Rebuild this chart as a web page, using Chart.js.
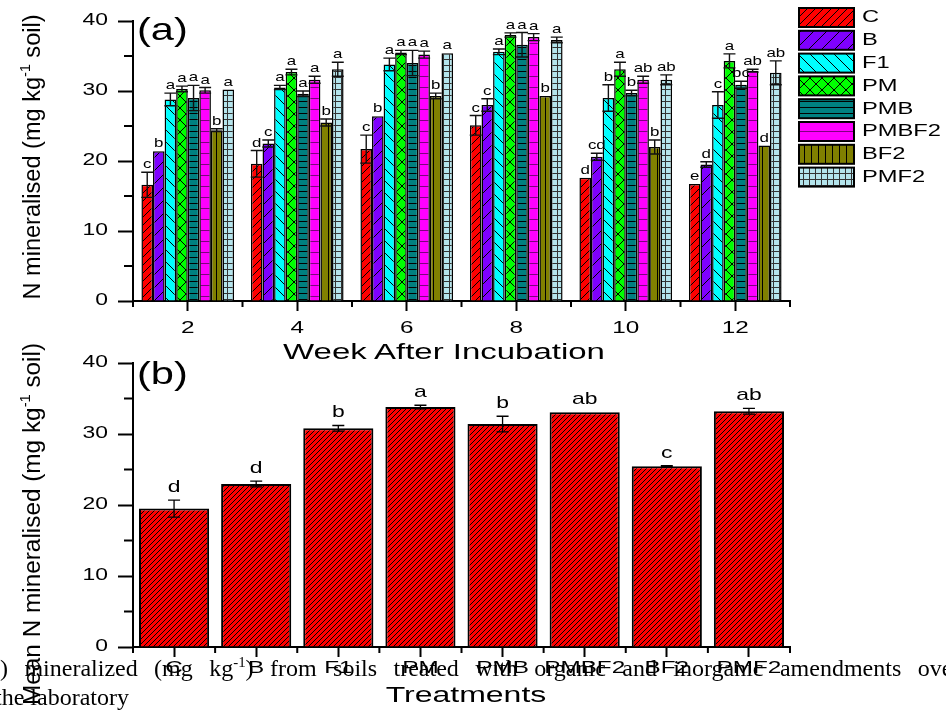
<!DOCTYPE html>
<html>
<head>
<meta charset="utf-8">
<script src="https://cdn.jsdelivr.net/npm/chart.js@4.4.0/dist/chart.umd.min.js"></script>
<style>
  body { margin: 0; background: #fff; }
  #wrap { position: relative; width: 946px; height: 711px; overflow: hidden; background: #fff; }
  canvas { position: absolute; left: 0; top: 0; }
  .t { position: absolute; white-space: nowrap; font-family: "Liberation Sans", Arial, sans-serif; color: #000; line-height: 1; }
  .t sup { font-size: 0.6em; vertical-align: 0.7em; line-height: 0; }
  .cap { position: absolute; white-space: nowrap; font-family: "Liberation Serif", "Times New Roman", serif; font-size: 24px; line-height: 1; color: #000; }
  .cap sup { font-size: 0.62em; vertical-align: 0.6em; line-height: 0; }
</style>
</head>
<body>
<div id="wrap">
  <canvas id="topChart" width="946" height="711"></canvas>
  <canvas id="botChart" width="946" height="711"></canvas>
</div>
<script>
// (a) weekly N mineralised, weeks 2..12
const weeks = ["2", "4", "6", "8", "10", "12"];
const treatments = ["C", "B", "F1", "PM", "PMB", "PMBF2", "BF2", "PMF2"];

const weeklyC     = [16.6, 19.6, 21.7, 25.1, 17.6, 16.7];
const weeklyB     = [21.4, 22.5, 26.4, 28.0, 20.6, 19.5];
const weeklyF1    = [28.8, 30.5, 33.8, 35.6, 29.0, 28.0];
const weeklyPM    = [30.3, 32.7, 35.5, 38.0, 33.1, 34.3];
const weeklyPMB   = [29.0, 29.6, 34.0, 36.6, 29.7, 30.9];
const weeklyPMBF2 = [30.1, 31.6, 35.2, 37.7, 31.6, 32.9];
const weeklyBF2   = [24.4, 25.5, 29.3, 29.3, 22.0, 22.2];
const weeklyPMF2  = [30.2, 33.1, 35.4, 37.3, 31.6, 32.6];

const errC     = [1.8, 1.9, 2.0, 1.4, 0, 0];
const errB     = [0, 0.5, 0, 0.9, 0.5, 0.4];
const errF1    = [0.9, 0.3, 0.9, 0.4, 1.9, 1.9];
const errPM    = [0.4, 0.4, 0.3, 0.3, 1.0, 1.0];
const errPMB   = [1.8, 0.4, 1.8, 1.75, 0.4, 0.5];
const errPMBF2 = [0.4, 0.5, 0.5, 0.5, 0.5, 0.2];
const errBF2   = [0.2, 0.5, 0.4, 0, 1.0, 0];
const errPMF2  = [0, 1.0, 0, 0.4, 0.7, 1.7];

const letC     = ["c", "d", "c", "c", "d", "e"];
const letB     = ["b", "c", "b", "c", "cd", "d"];
const letF1    = ["a", "a", "a", "a", "b", "c"];
const letPM    = ["a", "a", "a", "a", "a", "a"];
const letPMB   = ["a", "a", "a", "a", "b", "bc"];
const letPMBF2 = ["a", "a", "a", "a", "ab", "ab"];
const letBF2   = ["b", "b", "b", "b", "b", "d"];
const letPMF2  = ["a", "a", "a", "a", "ab", "ab"];

// (b) mean over the incubation
const meanAll    = [19.5, 22.95, 30.8, 33.8, 31.4, 33.05, 25.45, 33.2];
const meanErr    = [1.2, 0.4, 0.4, 0.25, 1.1, 0, 0.1, 0.4];
const meanLetter = ["d", "d", "b", "a", "b", "ab", "c", "ab"];

const yTicks = [0, 10, 20, 30, 40];

const weekly = [weeklyC, weeklyB, weeklyF1, weeklyPM, weeklyPMB, weeklyPMBF2, weeklyBF2, weeklyPMF2];
const weeklyErr = [errC, errB, errF1, errPM, errPMB, errPMBF2, errBF2, errPMF2];
const weeklyLet = [letC, letB, letF1, letPM, letPMB, letPMBF2, letBF2, letPMF2];

const SANS = '"Liberation Sans", Arial, sans-serif';
const wrap = document.getElementById("wrap");
const topCtx = document.getElementById("topChart").getContext("2d");

function makePattern(bg, size, draw, line) {
  const c = document.createElement("canvas");
  c.width = size; c.height = size;
  const g = c.getContext("2d");
  g.fillStyle = bg; g.fillRect(0, 0, size, size);
  g.strokeStyle = line || "#000"; g.lineWidth = 1;
  g.beginPath(); draw(g, size); g.stroke();
  return topCtx.createPattern(c, "repeat");
}
const slash = (g, s) => { for (const k of [-s, 0, s]) { g.moveTo(k, s); g.lineTo(k + s, 0); } };
const back = (g, s) => { for (const k of [-s, 0, s]) { g.moveTo(k, 0); g.lineTo(k + s, s); } };
const cross = (g, s) => { slash(g, s); back(g, s); };
const hline = (g, s) => { g.moveTo(0, s - 0.5); g.lineTo(s, s - 0.5); };
const vline = (g, s) => { g.moveTo(s - 0.5, 0); g.lineTo(s - 0.5, s); };
const grid = (g, s) => { hline(g, s); vline(g, s); };

const patterns = [
  makePattern("#ff0000", 8, slash),
  makePattern("#7f00ff", 13, slash),
  makePattern("#00ffff", 12, back),
  makePattern("#00ff00", 12, cross),
  makePattern("#008080", 6, hline),
  makePattern("#ff00ff", 11, hline, "#800080"),
  makePattern("#808000", 7, vline),
  makePattern("#b4e4ec", 6, grid, "#333")
];
const redDense = makePattern("#ff0000", 5, slash);

function stretchText(ctx, txt, x, y, align, sx) {
  ctx.save();
  ctx.translate(x, y);
  ctx.scale(sx, 1);
  ctx.textAlign = align;
  ctx.fillText(txt, 0, 0);
  ctx.restore();
}

// minor ticks + stretched tick labels
function axisDecor(labelDy) {
  return {
    id: "axisDecor",
    afterDraw(chart) {
      const ctx = chart.ctx, xs = chart.scales.x, ys = chart.scales.y;
      ctx.save();
      ctx.strokeStyle = "#000"; ctx.lineWidth = 2;
      ctx.beginPath();
      for (let v = 5; v < 40; v += 10) {
        const py = ys.getPixelForValue(v);
        ctx.moveTo(ys.right - 9, py); ctx.lineTo(ys.right, py);
      }
      for (let i = 0; i <= xs.ticks.length; i++) {
        const px = xs.getPixelForValue(i - 0.5);
        ctx.moveTo(px, xs.top); ctx.lineTo(px, xs.top + 6);
      }
      ctx.stroke();
      ctx.fillStyle = "#000";
      ctx.textBaseline = "middle";
      ctx.font = "16px " + SANS;
      ys.ticks.forEach((t, i) => stretchText(ctx, t.label, ys.right - 25, ys.getPixelForTick(i), "right", 1.43));
      ctx.font = "17px " + SANS;
      xs.ticks.forEach((t, i) => stretchText(ctx, chart.data.labels[i], xs.getPixelForTick(i), xs.top + labelDy, "center", 1.43));
      ctx.restore();
    }
  };
}

function errorBars(o) {
  return {
    id: "errorBars",
    afterDatasetsDraw(chart) {
      const ctx = chart.ctx, ys = chart.scales.y;
      ctx.save();
      chart.data.datasets.forEach((ds, di) => {
        chart.getDatasetMeta(di).data.forEach((bar, j) => {
          const v = ds.data[j], e = ds.errors[j];
          const hi = ys.getPixelForValue(v + e), lo = ys.getPixelForValue(v - e);
          if (e > 0) {
            ctx.strokeStyle = o.color; ctx.lineWidth = o.lw;
            ctx.beginPath();
            ctx.moveTo(bar.x, hi); ctx.lineTo(bar.x, lo);
            ctx.moveTo(bar.x - o.cap / 2, hi); ctx.lineTo(bar.x + o.cap / 2, hi);
            ctx.moveTo(bar.x - o.cap / 2, lo); ctx.lineTo(bar.x + o.cap / 2, lo);
            ctx.stroke();
          }
          ctx.fillStyle = "#000";
          ctx.font = o.font;
          ctx.textBaseline = "alphabetic";
          stretchText(ctx, ds.letters[j], bar.x, hi - o.gap, "center", o.sx);
        });
      });
      ctx.restore();
    }
  };
}

const legendBoxes = {
  id: "legendBoxes",
  afterDraw(chart) {
    const ctx = chart.ctx;
    ctx.save();
    chart.data.datasets.forEach((ds, i) => {
      const by = 8 + i * 22.8;
      ctx.fillStyle = ds.backgroundColor;
      ctx.fillRect(799, by, 55, 19);
      ctx.strokeStyle = "#000"; ctx.lineWidth = 2;
      ctx.strokeRect(799, by, 55, 19);
      ctx.fillStyle = "#000";
      ctx.font = "16px " + SANS;
      ctx.textBaseline = "middle";
      stretchText(ctx, ds.label, 862, by + 10, "left", 1.48);
    });
    ctx.restore();
  }
};

function scales(xHeight) {
  return {
    x: {
      grid: { drawOnChartArea: false, offset: false, tickLength: 10, tickWidth: 2, tickColor: "#000" },
      border: { color: "#000", width: 2 },
      ticks: { display: false },
      afterFit(s) { s.height = xHeight; }
    },
    y: {
      min: yTicks[0], max: yTicks[yTicks.length - 1],
      afterBuildTicks(s) { s.ticks = yTicks.map(v => ({ value: v })); },
      ticks: { display: false, callback: v => String(v) },
      grid: { drawOnChartArea: false, tickLength: 15, tickWidth: 2, tickColor: "#000" },
      border: { color: "#000", width: 2 },
      afterFit(s) { s.width = 133; }
    }
  };
}

new Chart(topCtx, {
  type: "bar",
  data: {
    labels: weeks,
    datasets: treatments.map((t, i) => ({
      label: t,
      data: weekly[i],
      errors: weeklyErr[i],
      letters: weeklyLet[i],
      backgroundColor: patterns[i],
      borderColor: "#000",
      borderWidth: 1.5,
      categoryPercentage: 0.846,
      barPercentage: 1
    }))
  },
  options: {
    responsive: false,
    animation: false,
    layout: { padding: { top: 21, right: 156, bottom: 370, left: 0 } },
    plugins: { legend: { display: false }, tooltip: { enabled: false } },
    scales: scales(40)
  },
  plugins: [axisDecor(27), errorBars({ color: "#111", lw: 1.4, cap: 12, gap: 4, font: "13px " + SANS, sx: 1.3 }), legendBoxes]
});

new Chart(document.getElementById("botChart"), {
  type: "bar",
  data: {
    labels: treatments,
    datasets: [{
      label: "Mean",
      data: meanAll,
      errors: meanErr,
      letters: meanLetter,
      backgroundColor: redDense,
      borderColor: "#000",
      borderWidth: 2,
      categoryPercentage: 1,
      barPercentage: 0.854
    }]
  },
  options: {
    responsive: false,
    animation: false,
    layout: { padding: { top: 363, right: 156, bottom: 24, left: 0 } },
    plugins: { legend: { display: false }, tooltip: { enabled: false } },
    scales: scales(40)
  },
  plugins: [axisDecor(21), errorBars({ color: "#000", lw: 1.3, cap: 12, gap: 8, font: "17px " + SANS, sx: 1.35 })]
});

// text overlays
function centered(html, cx, cy, size, target, rotate) {
  const d = document.createElement("div");
  d.className = "t";
  d.innerHTML = html;
  d.style.fontSize = size + "px";
  d.style.left = cx + "px";
  d.style.top = cy + "px";
  wrap.appendChild(d);
  const s = target ? target / d.offsetWidth : 1;
  d.style.transform = "translate(-50%,-50%)" + (rotate ? " rotate(-90deg)" : "") + " scaleX(" + s + ")";
}
centered("N mineralised (mg kg<sup>-1</sup> soil)", 32, 157, 23, 285, true);
centered("Mean N mineralised (mg kg<sup>-1</sup> soil)", 32, 524, 23, 362, true);
centered("Week After Incubation", 444, 352, 22, 322);
centered("Treatments", 466, 695, 22, 160);

function corner(txt, x, cy) {
  const d = document.createElement("div");
  d.className = "t";
  d.textContent = txt;
  d.style.fontSize = "32px";
  d.style.left = x + "px";
  d.style.top = cy + "px";
  d.style.transformOrigin = "0 50%";
  d.style.transform = "translateY(-50%) scaleX(1.3)";
  wrap.appendChild(d);
}
corner("(a)", 137, 29);
corner("(b)", 137, 373);

// caption text from the page behind the figure (justified line)
const cap1 = document.createElement("div");
cap1.className = "cap";
cap1.innerHTML = ') mineralized (mg kg<sup>-1</sup>) from soils treated with organic and inorganic amendments <span id="ov">over</span>';
cap1.style.left = "0px"; cap1.style.top = "656px";
wrap.appendChild(cap1);
const ov = document.getElementById("ov");
cap1.style.wordSpacing = ((918 - ov.offsetLeft) / 12) + "px";
const cap2 = document.createElement("div");
cap2.className = "cap";
cap2.textContent = "the laboratory";
cap2.style.left = "-5px"; cap2.style.top = "685px";
wrap.appendChild(cap2);
</script>
</body>
</html>
